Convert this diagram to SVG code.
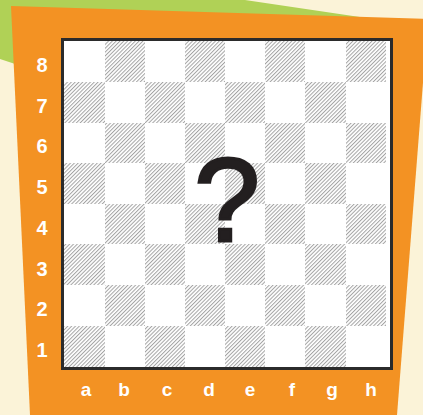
<svg xmlns="http://www.w3.org/2000/svg" width="423" height="415" viewBox="0 0 423 415">
<defs>
<pattern id="hatch" patternUnits="userSpaceOnUse" width="2.7" height="10" patternTransform="rotate(45)">
<rect x="0" y="0" width="1" height="10" fill="#a3a3a3"/>
</pattern>
<style>
.dk{fill:url(#hatch)}
.lbl{font-family:"Liberation Sans",Arial,sans-serif;font-weight:bold;fill:#ffffff;text-anchor:middle}
.num{font-size:20px}
.let{font-size:19px}
</style>
</defs>
<g id="background">
<rect x="0" y="0" width="423" height="415" fill="#fbf3d8"/>
<polygon points="0,0 245,0 380,20 100,92 0,59" fill="#b0d156"/>
<polygon points="11,6 428,19 397,415 30,415" fill="#f39223"/>
</g>
<g id="board">
<rect x="62.5" y="39.5" width="329" height="329" fill="#ffffff" stroke="#2b2b2b" stroke-width="3"/>
<g id="dark-squares">
<rect class="dk" x="105" y="41" width="40" height="41"/>
<rect class="dk" x="185" y="41" width="40" height="41"/>
<rect class="dk" x="265" y="41" width="40" height="41"/>
<rect class="dk" x="346" y="41" width="40" height="41"/>
<rect class="dk" x="64" y="82" width="41" height="41"/>
<rect class="dk" x="145" y="82" width="40" height="41"/>
<rect class="dk" x="225" y="82" width="40" height="41"/>
<rect class="dk" x="305" y="82" width="41" height="41"/>
<rect class="dk" x="105" y="123" width="40" height="40"/>
<rect class="dk" x="185" y="123" width="40" height="40"/>
<rect class="dk" x="265" y="123" width="40" height="40"/>
<rect class="dk" x="346" y="123" width="40" height="40"/>
<rect class="dk" x="64" y="163" width="41" height="41"/>
<rect class="dk" x="145" y="163" width="40" height="41"/>
<rect class="dk" x="225" y="163" width="40" height="41"/>
<rect class="dk" x="305" y="163" width="41" height="41"/>
<rect class="dk" x="105" y="204" width="40" height="40"/>
<rect class="dk" x="185" y="204" width="40" height="40"/>
<rect class="dk" x="265" y="204" width="40" height="40"/>
<rect class="dk" x="346" y="204" width="40" height="40"/>
<rect class="dk" x="64" y="244" width="41" height="41"/>
<rect class="dk" x="145" y="244" width="40" height="41"/>
<rect class="dk" x="225" y="244" width="40" height="41"/>
<rect class="dk" x="305" y="244" width="41" height="41"/>
<rect class="dk" x="105" y="285" width="40" height="41"/>
<rect class="dk" x="185" y="285" width="40" height="41"/>
<rect class="dk" x="265" y="285" width="40" height="41"/>
<rect class="dk" x="346" y="285" width="40" height="41"/>
<rect class="dk" x="64" y="326" width="41" height="41"/>
<rect class="dk" x="145" y="326" width="40" height="41"/>
<rect class="dk" x="225" y="326" width="40" height="41"/>
<rect class="dk" x="305" y="326" width="41" height="41"/>
</g>
</g>
<g id="question">
<text x="227" y="240.5" font-family="'Liberation Sans',Arial,sans-serif" font-size="118" fill="#231f20" stroke="#231f20" stroke-width="3" stroke-linejoin="miter" text-anchor="middle">?</text>
</g>
<g id="rank-labels">
<text class="lbl num" x="42" y="72">8</text>
<text class="lbl num" x="42" y="112.7">7</text>
<text class="lbl num" x="42" y="153.4">6</text>
<text class="lbl num" x="42" y="194.1">5</text>
<text class="lbl num" x="42" y="234.8">4</text>
<text class="lbl num" x="42" y="275.5">3</text>
<text class="lbl num" x="42" y="316.2">2</text>
<text class="lbl num" x="42" y="357">1</text>
</g>
<g id="file-labels">
<text class="lbl let" x="86" y="396">a</text>
<text class="lbl let" x="124" y="396">b</text>
<text class="lbl let" x="167" y="396">c</text>
<text class="lbl let" x="209" y="396">d</text>
<text class="lbl let" x="250" y="396">e</text>
<text class="lbl let" x="292" y="396">f</text>
<text class="lbl let" x="332" y="396">g</text>
<text class="lbl let" x="371" y="396">h</text>
</g>
</svg>
